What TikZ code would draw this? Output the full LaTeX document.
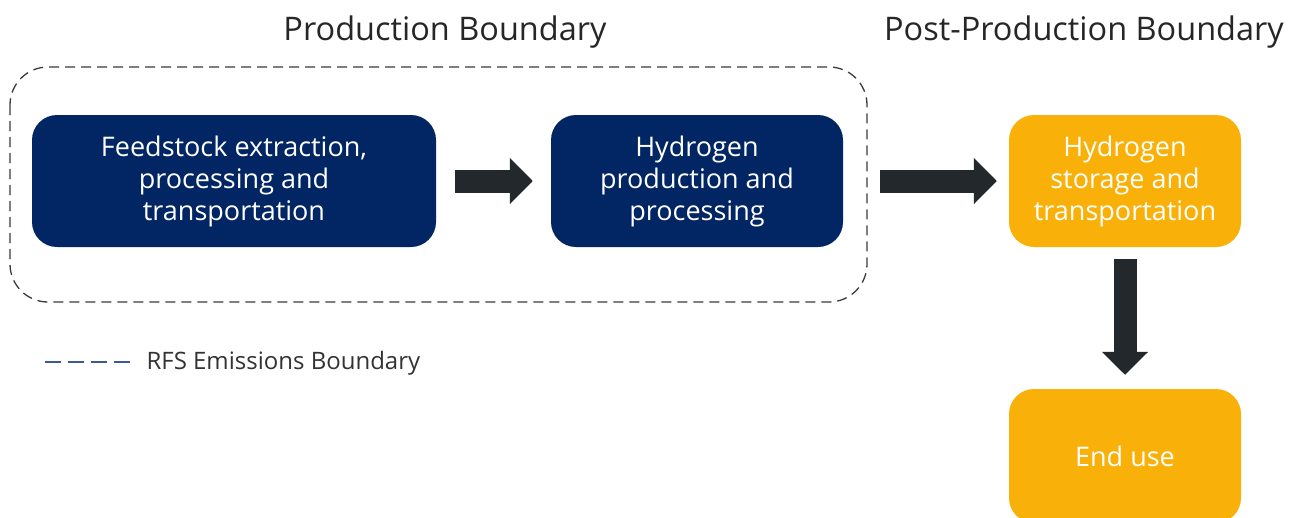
\documentclass[tikz,border=0pt]{standalone}
\usepackage{fontspec}
\setmainfont{Open Sans}
\usetikzlibrary{arrows.meta}
\definecolor{navy}{HTML}{012663}
\definecolor{amber}{HTML}{F9B008}
\definecolor{arrowgray}{HTML}{23282D}
\definecolor{boundgray}{HTML}{3A3A3A}
\definecolor{legendblue}{HTML}{3B5A94}
\tikzset{
  stage/.style={rounded corners=25pt, inner sep=0pt, align=center, text=white,
    font=\fontsize{27}{32}\selectfont, minimum height=132pt},
  prodbox/.style={stage, fill=navy},
  postbox/.style={stage, fill=amber},
  flow/.style={draw=arrowgray, line width=23pt,
    -{Triangle[width=45pt,length=23pt]}},
  heading/.style={font=\fontsize{32.5}{36}\selectfont, text=black!85},
}
\begin{document}
\begin{tikzpicture}[x=1pt,y=-1pt]
\useasboundingbox (0,0) rectangle (1298,517);
\clip (0,0) rectangle (1298,517);

% headings
\node[heading] (h1) at (445,32) {Production Boundary};
\node[heading] (h2) at (1084,32) {Post-Production Boundary};

% RFS emissions boundary around the production stages
\draw[boundgray, line width=1.3pt, dash pattern=on 10pt off 6pt, rounded corners=38pt]
  (10,67) rectangle (867,302);

% stages
\node[prodbox, minimum width=404pt] (feed) at (234,181)
  {Feedstock extraction,\\processing and\\transportation};
\node[prodbox, minimum width=292pt] (prod) at (697,181)
  {Hydrogen\\production and\\processing};
\node[postbox, minimum width=232pt] (store) at (1125,181)
  {Hydrogen\\storage and\\transportation};
\node[postbox, minimum width=232pt, minimum height=134pt] (use) at (1125,456) {};
\node[text=white, font=\fontsize{27}{32}\selectfont] (uselabel) at (1125,456) {End use};

% flows
\draw[flow, shorten <=19pt, shorten >=18pt] (feed.east) -- (prod.west);
\draw[flow, shorten <=37pt, shorten >=12pt] (prod.east) -- (store.west);
\draw[flow, shorten <=12pt, shorten >=14pt] (store.south) -- (use.north);

% legend
\coordinate (lgA) at (45,362);
\coordinate (lgB) at (131,362);
\draw[legendblue, line width=2pt, dash pattern=on 16pt off 7pt] (lgA) -- (lgB);
\node[anchor=west, font=\fontsize{24}{28}\selectfont, text=black!80] (lgtext) at (143,363)
  {RFS Emissions Boundary};
\end{tikzpicture}
\end{document}
